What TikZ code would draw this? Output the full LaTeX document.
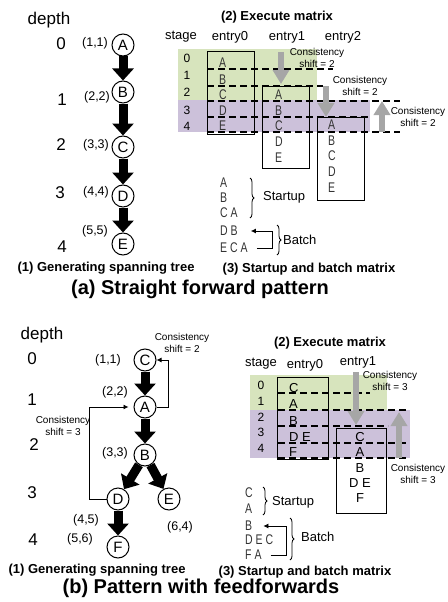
\documentclass[tikz,border=0pt]{standalone}
\usepackage{fontspec}
\setmainfont{Liberation Sans}
\newfontfamily\narrowfont[FakeStretch=0.75]{Liberation Sans}
\definecolor{StageGreen}{RGB}{215, 228, 189}
\definecolor{StagePurple}{RGB}{204, 193, 218}
\definecolor{ShiftGray}{RGB}{166, 166, 166}
\usetikzlibrary{arrows.meta, positioning, decorations.pathreplacing}

\begin{document}
\begin{tikzpicture}[
            x=1pt, y=-1pt,
            vertex/.style={circle, draw, line width=1pt, minimum size=22pt, inner sep=0pt,
                           font=\fontsize{15}{15}\selectfont},
            depthlbl/.style={inner sep=0pt, font=\fontsize{17}{17}\selectfont},
            coordlbl/.style={inner sep=0pt, font=\fontsize{12.5}{12.5}\selectfont},
            subcap/.style={inner sep=0pt, font=\bfseries\fontsize{13}{13}\selectfont},
            maintitle/.style={inner sep=0pt, font=\bfseries\fontsize{20}{20}\selectfont},
            colhead/.style={inner sep=0pt, font=\fontsize{13}{13}\selectfont},
            stagenum/.style={inner sep=0pt, font=\fontsize{12}{12}\selectfont},
            cell/.style={inner sep=0pt, anchor=base west, text=black!80,
                         font=\narrowfont\fontsize{14}{14}\selectfont},
            cellb/.style={inner sep=0pt, anchor=base, font=\fontsize{13}{13}\selectfont},
            seqline/.style={inner sep=0pt, anchor=west, text=black!80,
                            font=\narrowfont\fontsize{14}{14}\selectfont},
            seqlbl/.style={inner sep=0pt, anchor=west, font=\fontsize{13}{13}\selectfont},
            note/.style={inner sep=0pt, align=center, font=\fontsize{10}{12}\selectfont},
            entrybox/.style={draw, line width=1pt, anchor=north west, inner sep=0pt},
            bigarrow/.style={-{Triangle[length=12pt, width=21pt]}, line width=9pt},
            shiftarrow/.style={-{Triangle[length=14pt, width=16pt]}, line width=6pt, ShiftGray},
            fb/.style={-{Latex[length=5pt, width=5pt]}, line width=0.8pt},
            rowline/.style={dashed, dash pattern=on 7pt off 4pt, line width=1.2pt},
            curly/.style={decorate, decoration={brace, amplitude=4pt}, line width=0.8pt}
        ]
            \useasboundingbox (0,0) rectangle (447,602);

            %% (a) Straight forward pattern
            % Spanning tree
            \node[depthlbl] (deptha) at (49,20) {depth};
            \node[depthlbl] (da0) at (61,44) {0};
            \node[depthlbl] (da1) at (62,100) {1};
            \node[depthlbl] (da2) at (61,145) {2};
            \node[depthlbl] (da3) at (60,193) {3};
            \node[depthlbl] (da4) at (62,247) {4};

            \node[vertex] (aA) at (123,45) {A};
            \node[vertex, below=24pt of aA] (aB) {B};
            \node[vertex, below=32pt of aB] (aC) {C};
            \node[vertex, below=26pt of aC] (aD) {D};
            \node[vertex, below=25pt of aD] (aE) {E};

            \node[coordlbl] (laA) at (95,43) {(1,1)};
            \node[coordlbl] (laB) at (97,97) {(2,2)};
            \node[coordlbl] (laC) at (96,145) {(3,3)};
            \node[coordlbl] (laD) at (96,192) {(4,4)};
            \node[coordlbl] (laE) at (95,231) {(5,5)};

            \draw[bigarrow] (aA) -- (aB);
            \draw[bigarrow] (aB) -- (aC);
            \draw[bigarrow] (aC) -- (aD);
            \draw[bigarrow] (aD) -- (aE);

            % Execute matrix
            \fill[StageGreen] (178,49) rectangle (317,100);
            \fill[StagePurple] (178,100) rectangle (370,132);

            \node[subcap] (execa) at (277,17) {(2) Execute matrix};
            \node[colhead] (stagea) at (181,37) {stage};
            \node[colhead] (hae0) at (230,37) {entry0};
            \node[colhead] (hae1) at (287,37) {entry1};
            \node[colhead] (hae2) at (343,37) {entry2};

            \node[stagenum] (sa0) at (187,58) {0};
            \node[stagenum] (sa1) at (187,75) {1};
            \node[stagenum] (sa2) at (187,92) {2};
            \node[stagenum] (sa3) at (187,110) {3};
            \node[stagenum] (sa4) at (187,126) {4};

            \node[entrybox, minimum width=47pt, minimum height=83pt] (ae0) at (207,51) {};
            \node[entrybox, minimum width=47pt, minimum height=82pt] (ae1) at (262,86) {};
            \node[entrybox, minimum width=47pt, minimum height=83pt] (ae2) at (317,117) {};

            \draw[rowline] (207,69) -- (333,69);
            \draw[rowline] (207,86) -- (323,86);
            \draw[rowline] (207,101) -- (400,101);
            \draw[rowline] (207,117) -- (368,117);
            \draw[rowline] (207,132) -- (400,132);

            \node[cell] (ca0A) at (219,67.5) {A};
            \node[cell] (ca0B) at (219,84.5) {B};
            \node[cell] (ca0C) at (219,99.5) {C};
            \node[cell] (ca0D) at (219,115.5) {D};
            \node[cell] (ca0E) at (219,130.5) {E};

            \node[cell] (ca1A) at (275,99.5) {A};
            \node[cell] (ca1B) at (275,115.5) {B};
            \node[cell] (ca1C) at (275,130.5) {C};
            \node[cell] (ca1D) at (275,146) {D};
            \node[cell] (ca1E) at (275,162) {E};

            \node[cell] (ca2A) at (328,129) {A};
            \node[cell] (ca2B) at (328,145) {B};
            \node[cell] (ca2C) at (328,160.5) {C};
            \node[cell] (ca2D) at (328,176) {D};
            \node[cell] (ca2E) at (328,192) {E};

            % Consistency shifts
            \coordinate (sha1) at (281,52);
            \coordinate (tha1) at (281,84);
            \coordinate (sha2) at (326,86);
            \coordinate (tha2) at (326,117);
            \coordinate (sha3) at (382,132);
            \coordinate (tha3) at (382,101);
            \draw[shiftarrow] (sha1) -- (tha1);
            \draw[shiftarrow] (sha2) -- (tha2);
            \draw[shiftarrow] (sha3) -- (tha3);

            \node[note] (csa1) at (317,58) {Consistency\\shift = 2};
            \node[note] (csa2) at (360,86) {Consistency\\shift = 2};
            \node[note] (csa3) at (418,116.5) {Consistency\\shift = 2};

            % Startup and batch
            \node[seqline] (qaA) at (220,183) {A};
            \node[seqline] (qaB) at (220,198) {B};
            \node[seqline] (qaCA) at (220,213) {C A};
            \node[seqline] (qaDB) at (220,231) {D B};
            \node[seqline] (qaECA) at (220,248) {E C A};

            \draw[curly] (250,178) -- (250,218);
            \draw[curly] (277,225) -- (277,255);
            \node[seqlbl] (startupa) at (263,197) {Startup};
            \node[seqlbl] (batcha) at (283,240) {Batch};
            \draw[fb] ([xshift=9pt]qaECA.east) -- ++(16,0) |- ([xshift=13pt]qaDB.east);

            \node[subcap] (capa1) at (106,268) {(1) Generating spanning tree};
            \node[subcap] (capa3) at (309,269) {(3) Startup and batch matrix};
            \node[maintitle] (titlea) at (200,289) {(a) Straight forward pattern};

            %% (b) Pattern with feedforwards
            % Spanning tree
            \node[depthlbl] (depthb) at (42,335) {depth};
            \node[depthlbl] (db0) at (32,359) {0};
            \node[depthlbl] (db1) at (32,400) {1};
            \node[depthlbl] (db2) at (34,445) {2};
            \node[depthlbl] (db3) at (32,493) {3};
            \node[depthlbl] (db4) at (33,540) {4};

            \node[vertex] (bC) at (145,360) {C};
            \node[vertex, below=24pt of bC] (bA) {A};
            \node[vertex, below=25pt of bA] (bB) {B};
            \node[vertex] (bD) at (118,499) {D};
            \node[vertex] (bE) at (169,499) {E};
            \node[vertex, below=25pt of bD] (bF) {F};

            \node[coordlbl] (lbC) at (108,360) {(1,1)};
            \node[coordlbl] (lbA) at (115,392) {(2,2)};
            \node[coordlbl] (lbB) at (115,453) {(3,3)};
            \node[coordlbl] (lbD) at (86,520) {(4,5)};
            \node[coordlbl] (lbE) at (180,527) {(6,4)};
            \node[coordlbl] (lbF) at (80,539) {(5,6)};

            \draw[bigarrow] (bC) -- (bA);
            \draw[bigarrow] (bA) -- (bB);
            \draw[bigarrow] (bB) -- (bD);
            \draw[bigarrow] (bB) -- (bE);
            \draw[bigarrow] (bD) -- (bF);

            % Feedforward loops
            \draw[fb] (bA.east) -- ++(12,0) |- (bC.east);
            \draw[fb] (bD.west) -- ++(-17,0) |- ([xshift=-5pt]bA.west);
            \node[note] (csb1) at (182,343) {Consistency\\shift = 2};
            \node[note] (csb2) at (63,425.5) {Consistency\\shift = 3};

            % Execute matrix
            \fill[StageGreen] (250,375) rectangle (387,410);
            \fill[StagePurple] (250,410) rectangle (410,458);

            \node[subcap] (execb) at (330,343) {(2) Execute matrix};
            \node[colhead] (stageb) at (261,364) {stage};
            \node[colhead] (hbe0) at (305,365) {entry0};
            \node[colhead] (hbe1) at (358,362) {entry1};

            \node[stagenum] (sb0) at (261,385) {0};
            \node[stagenum] (sb1) at (261,401) {1};
            \node[stagenum] (sb2) at (261,417) {2};
            \node[stagenum] (sb3) at (261,432) {3};
            \node[stagenum] (sb4) at (261,448) {4};

            \node[entrybox, minimum width=51pt, minimum height=82pt] (be0) at (277,377) {};
            \node[entrybox, minimum width=50pt, minimum height=85pt] (be1) at (336,428) {};

            \draw[rowline] (278,393) -- (370,393);
            \draw[rowline] (278,410) -- (407,410);
            \draw[rowline] (278,426) -- (388,426);
            \draw[rowline] (278,443) -- (408,443);
            \draw[rowline] (278,458) -- (408,458);

            \node[cellb, anchor=base west] (cb0C) at (289,392) {C};
            \node[cellb, anchor=base west] (cb0A) at (289,408.5) {A};
            \node[cellb, anchor=base west] (cb0B) at (289,425) {B};
            \node[cellb, anchor=base west] (cb0DE) at (289,441.5) {D E};
            \node[cellb, anchor=base west] (cb0F) at (289,456.5) {F};

            \node[cellb] (cb1C) at (360,441.5) {C};
            \node[cellb] (cb1A) at (360,456.5) {A};
            \node[cellb] (cb1B) at (360,472.5) {B};
            \node[cellb] (cb1DE) at (360,487.5) {D E};
            \node[cellb] (cb1F) at (360,502.5) {F};

            % Consistency shifts
            \coordinate (shb1) at (356,372);
            \coordinate (thb1) at (356,425);
            \coordinate (shb2) at (399,458);
            \coordinate (thb2) at (399,412);
            \draw[shiftarrow] (shb1) -- (thb1);
            \draw[shiftarrow] (shb2) -- (thb2);

            \node[note] (csb3) at (390,381) {Consistency\\shift = 3};
            \node[note] (csb4) at (418,474) {Consistency\\shift = 3};

            % Startup and batch
            \node[seqline] (qbC) at (245,493) {C};
            \node[seqline] (qbA) at (245,509) {A};
            \node[seqline] (qbB) at (245,526) {B};
            \node[seqline] (qbDEC) at (245,540) {D E C};
            \node[seqline] (qbFA) at (245,555) {F A};

            \draw[curly] (263,487) -- (263,515);
            \draw[curly] (290,518) -- (290,560);
            \node[seqlbl] (startupb) at (272,502) {Startup};
            \node[seqlbl] (batchb) at (301,537) {Batch};
            \draw[fb] ([xshift=9pt]qbFA.east) -- ++(16,0) |- ([xshift=11pt]qbB.east);

            \node[subcap] (capb1) at (97,570) {(1) Generating spanning tree};
            \node[subcap] (capb3) at (305,572) {(3) Startup and batch matrix};
            \node[maintitle] (titleb) at (201,588) {(b) Pattern with feedforwards};
        \end{tikzpicture}
\end{document}
